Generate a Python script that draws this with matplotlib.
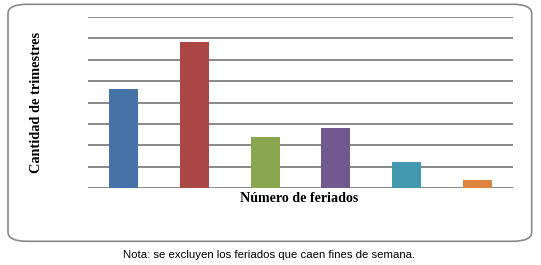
import matplotlib
matplotlib.use("Agg")
import matplotlib.pyplot as plt
from matplotlib.patches import FancyBboxPatch

# feriados por trimestre (en unidades de la grilla)
categorias = ["0", "1", "2", "3", "4", "5"]
trimestres = [4.63, 6.82, 2.39, 2.81, 1.23, 0.39]
colores = ["#4572A7", "#AA4643", "#89A54E", "#71588F", "#4198AF", "#DB843D"]

fig = plt.figure(figsize=(5.41, 2.65), dpi=100)

# marco redondeado
marco = FancyBboxPatch((8 / 541, 1 - 241.3 / 265), (531.7 - 8) / 541, (241.3 - 4.3) / 265,
                       boxstyle="round,pad=0,rounding_size=0.035",
                       transform=fig.transFigure, fill=False,
                       edgecolor="#8a8a8a", linewidth=1.2)
fig.patches.append(marco)

ax = fig.add_axes([88.3 / 541, 1 - 188.3 / 265, (512.7 - 88.3) / 541, (188.3 - 16.7) / 265])
x = range(len(categorias))
ax.bar(x, trimestres, width=0.41, color=colores, zorder=3)
ax.set_xlim(-0.5, len(categorias) - 0.5)
ax.set_ylim(0, 8)
ax.set_yticks(range(0, 9))
ax.yaxis.grid(True, color="#888888", linewidth=1.4, zorder=0)
ax.tick_params(left=False, bottom=False, labelleft=False, labelbottom=False)
for s in ax.spines.values():
    s.set_visible(False)

fig.text(299 / 541, 1 - 199 / 265, "Número de feriados", ha="center", va="center",
         family="Liberation Serif", fontweight="bold", fontsize=10.1)
fig.text(36.5 / 541, 1 - 102 / 265, "Cantidad de trimestres", ha="center", va="center",
         rotation=90, family="Liberation Serif", fontweight="bold", fontsize=10.3)
fig.text(269 / 541, 1 - 255 / 265, "Nota: se excluyen los feriados que caen fines de semana.",
         ha="center", va="center", family="Liberation Sans", fontsize=8.2)

fig.savefig("out.png", dpi=100)
